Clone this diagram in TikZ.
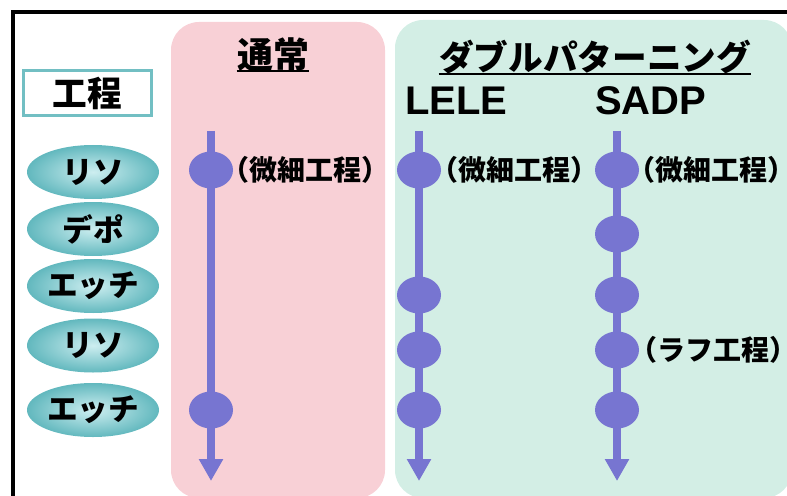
\documentclass[tikz,border=0pt]{standalone}
\usepackage{fontspec}
\setmainfont{Noto Sans CJK JP}
\newfontfamily\latinsans{Liberation Sans}
\usetikzlibrary{shapes.geometric,arrows.meta}
\definecolor{pinkbg}{RGB}{248,208,214}
\definecolor{greenbg}{RGB}{211,238,229}
\definecolor{dotc}{RGB}{119,117,209}
\definecolor{tealline}{RGB}{114,191,195}
\definecolor{ovalin}{RGB}{205,238,240}
\definecolor{ovalout}{RGB}{98,184,190}
\newcommand{\trimlabel}[1]{\hspace*{-0.42em}#1\hspace*{-0.42em}}
\begin{document}
\begin{tikzpicture}[x=0.75pt,y=-0.75pt,
  panel/.style={rounded corners=21pt, draw=none},
  dot/.style={ellipse, fill=dotc, minimum width=33pt, minimum height=27.75pt, inner sep=0pt},
  flow/.style={draw=dotc, line width=6pt, -{Triangle[length=16.5pt,width=17.25pt]}},
  proclabel/.style={font=\bfseries\fontsize{21pt}{21pt}\selectfont, inner sep=0pt},
  titletext/.style={inner sep=0pt},
  abbr/.style={font=\latinsans\bfseries\fontsize{30pt}{30pt}\selectfont, inner sep=0pt, anchor=base west},
  procoval/.style={ellipse, minimum width=99pt, minimum height=40.5pt, inner sep=0pt,
    inner color=ovalin, outer color=ovalout, font=\bfseries\fontsize{23pt}{23pt}\selectfont},
  uline/.style={line width=1.5pt}
]
\useasboundingbox (0,0) rectangle (787,495);
\clip (0,0) rectangle (787,495);
% frame
\draw[line width=2.5pt] (13,12) rectangle (830,540);
% panels
\fill[pinkbg, panel] (171,22) rectangle (385,498);
\fill[greenbg, panel] (395,20) rectangle (792,498);
% titles
\node[titletext, font=\bfseries\fontsize{27pt}{27pt}\selectfont] (tnorm) at (273,55) {通常};
\draw[uline] ([yshift=1pt]tnorm.south west) -- ([yshift=1pt]tnorm.south east);
\node[titletext, font=\bfseries\fontsize{26pt}{26pt}\selectfont] (tdbl) at (595,57) {ダブルパターニング};
\draw[uline] (tdbl.south west) -- (tdbl.south east);
\node[abbr] (tlele) at (405,115) {LELE};
\node[abbr] (tsadp) at (595,115) {SADP};
% process box
\node[draw=tealline, line width=2.25pt, minimum width=96pt, minimum height=33.75pt, inner sep=0pt,
  font=\bfseries\fontsize{26pt}{26pt}\selectfont] (koutei) at (87.5,93) {\raisebox{-2.25pt}{工程}};
% process ovals
\node[procoval] (o1) at (93,172) {リソ};
\node[procoval] (o2) at (93,229) {デポ};
\node[procoval] (o3) at (93,286) {エッチ};
\node[procoval] (o4) at (93,345.5) {リソ};
\node[procoval] (o5) at (93,410) {エッチ};
% flows
\coordinate (na) at (211,131); \coordinate (nz) at (211,481);
\coordinate (la) at (419,131); \coordinate (lz) at (419,481);
\coordinate (sa) at (617,131); \coordinate (sz) at (617,481);
\draw[flow] (na) -- (nz);
\draw[flow] (la) -- (lz);
\draw[flow] (sa) -- (sz);
% dots
\node[dot] (n1) at (211,170) {};
\node[dot] (n5) at (211,410) {};
\node[dot] (l1) at (419,170) {};
\node[dot] (l3) at (419,295) {};
\node[dot] (l4) at (419,350) {};
\node[dot] (l5) at (419,410) {};
\node[dot] (s1) at (617,170) {};
\node[dot] (s2) at (617,234) {};
\node[dot] (s3) at (617,295) {};
\node[dot] (s4) at (617,350) {};
\node[dot] (s5) at (617,410) {};
% labels
\node[proclabel] (ln) at (305,170) {\trimlabel{（微細工程）}};
\node[proclabel] (ll) at (514,170) {\trimlabel{（微細工程）}};
\node[proclabel] (ls) at (711,170) {\trimlabel{（微細工程）}};
\node[proclabel] (lr) at (713,350) {\trimlabel{（ラフ工程）}};
\end{tikzpicture}
\end{document}
